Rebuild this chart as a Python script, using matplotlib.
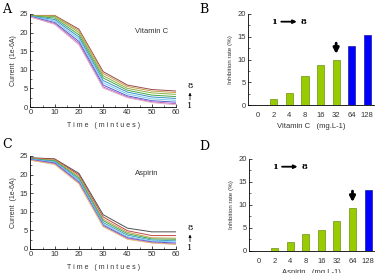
import numpy as np
import matplotlib
matplotlib.use('agg')
import matplotlib.pyplot as plt

plt.rcParams['font.family'] = ['Liberation Sans', 'DejaVu Sans']

# time course (minutes)
time_min = [0, 10, 20, 30, 40, 50, 60]

# Vitamin C current curves, top (8) to bottom (1)
vitc_curves = [
    [24.6, 24.6, 20.9, 9.5, 5.9, 4.7, 4.3],
    [24.6, 24.5, 20.5, 9.0, 5.5, 4.3, 3.9],
    [24.5, 24.3, 20.0, 8.4, 5.0, 3.8, 3.4],
    [24.5, 23.9, 19.4, 7.8, 4.5, 3.2, 2.8],
    [24.4, 23.5, 18.8, 7.1, 4.0, 2.7, 2.3],
    [24.4, 23.1, 18.2, 6.5, 3.5, 2.2, 1.8],
    [24.3, 22.7, 17.6, 5.9, 3.0, 1.7, 1.3],
    [24.2, 22.4, 17.1, 5.4, 2.7, 1.4, 0.9],
    [24.2, 22.2, 16.7, 5.1, 2.5, 1.2, 0.6],
]

# Aspirin current curves, top (8) to bottom (1)
asp_curves = [
    [24.5, 24.2, 20.3, 9.2, 5.6, 4.6, 4.6],
    [24.4, 24.1, 19.9, 8.6, 4.9, 3.6, 3.6],
    [24.3, 23.9, 19.5, 8.0, 4.5, 3.0, 2.9],
    [24.2, 23.7, 19.1, 7.6, 4.1, 2.7, 2.6],
    [24.2, 23.5, 18.7, 7.1, 3.7, 2.4, 2.2],
    [24.1, 23.3, 18.4, 6.7, 3.3, 2.1, 1.9],
    [24.0, 23.1, 18.0, 6.4, 3.0, 1.9, 1.6],
    [23.9, 22.9, 17.7, 6.1, 2.8, 1.7, 1.3],
    [23.8, 22.7, 17.5, 6.0, 2.6, 1.6, 1.2],
]

line_colors = ['#9a4a4a', '#c89a50', '#8cb040', '#48a848', '#3c90c8',
               '#78c8f0', '#5060d0', '#c060c0', '#e0b0c8']
asp_colors = ['#505050', '#c04848', '#c8a050', '#48a848', '#40a0c0',
              '#80c8f0', '#5060d0', '#c060c0', '#e0c080']

# inhibition rates
conc_labels = ['0', '2', '4', '8', '16', '32', '64', '128']
vitc_inhib = [0, 1.3, 2.6, 6.3, 8.9, 10.0, 13.0, 15.4]
asp_inhib = [0, 0.7, 2.0, 3.6, 4.5, 6.4, 9.4, 13.2]
vitc_blue_from = 6
asp_blue_from = 7

GREEN = '#99cc00'
BLUE = '#0000ff'
TXT = '#333333'

fig = plt.figure(figsize=(3.8, 2.73), dpi=100)


def line_panel(rect, curves, colors, name):
    ax = fig.add_axes(rect)
    for c, col in zip(curves, colors):
        ax.plot(time_min, c, color=col, lw=0.7)
    ax.set_xlim(0, 60)
    ax.set_ylim(0, 25)
    ax.set_xticks([0, 10, 20, 30, 40, 50, 60])
    ax.set_xticks(np.arange(0, 61, 5), minor=True)
    ax.set_yticks([0, 5, 10, 15, 20, 25])
    ax.set_yticks(np.arange(0, 25.1, 2.5), minor=True)
    for s in ['top', 'right']:
        ax.spines[s].set_visible(False)
    for s in ['left', 'bottom']:
        ax.spines[s].set_linewidth(0.6)
    ax.tick_params(labelsize=5.5, length=2, width=0.5, pad=1.5, direction='in',
                   labelcolor=TXT)
    ax.tick_params(which='minor', length=1.2, width=0.4, direction='in')
    ax.set_xlabel('T i m e   ( m i n t u e s )', fontsize=5, labelpad=4, color=TXT)
    ax.set_ylabel('Current  (1e-6A)', fontsize=5, labelpad=2, color=TXT)
    ax.text(0.72, 0.8, name, transform=ax.transAxes, fontsize=5.5, color=TXT)
    # 1 -> 8 marker on the right
    ax.text(65.8, 5.6, '8', fontsize=6, ha='center', va='center', clip_on=False,
            family='DejaVu Serif')
    ax.text(65.8, 0.2, '1', fontsize=6, ha='center', va='center', clip_on=False,
            family='DejaVu Serif')
    ax.annotate('', xy=(65.8, 4.6), xytext=(65.8, 1.2), annotation_clip=False,
                arrowprops=dict(arrowstyle='-|>', lw=0.5, color='black',
                                mutation_scale=4))
    return ax


def bar_panel(rect, vals, blue_from, xlabel, arrow_idx):
    ax = fig.add_axes(rect)
    x = np.arange(len(conc_labels))
    cols = [GREEN if i < blue_from else BLUE for i in x]
    edges = ['#5a7a00' if i < blue_from else '#000080' for i in x]
    ax.bar(x, vals, width=0.45, color=cols, edgecolor=edges, linewidth=0.4)
    ax.set_xlim(-0.65, 7.4)
    ax.set_ylim(0, 20)
    ax.set_xticks(x)
    ax.set_xticklabels(conc_labels)
    ax.set_yticks([0, 5, 10, 15, 20])
    ax.set_yticks(np.arange(0, 20.1, 2.5), minor=True)
    for s in ['top', 'right']:
        ax.spines[s].set_visible(False)
    for s in ['left', 'bottom']:
        ax.spines[s].set_linewidth(0.6)
    ax.tick_params(axis='x', length=0, labelsize=5.5, pad=5, labelcolor=TXT)
    ax.tick_params(axis='y', labelsize=5.5, length=2, width=0.5, pad=1.5,
                   direction='in', labelcolor=TXT)
    ax.tick_params(which='minor', length=1.2, width=0.4, direction='in')
    ax.set_xlabel(xlabel, fontsize=5.5, labelpad=3, color=TXT)
    ax.set_ylabel('Inhibition rate (%)', fontsize=4.5, labelpad=3, color=TXT)
    ax.text(1.0, 18.3, '1', fontsize=6, fontweight='bold', ha='center', va='center',
            family='DejaVu Serif')
    ax.text(2.9, 18.3, '8', fontsize=6, fontweight='bold', ha='center', va='center',
            family='DejaVu Serif')
    ax.annotate('', xy=(2.65, 18.3), xytext=(1.3, 18.3),
                arrowprops=dict(arrowstyle='-|>', lw=1.3, color='black',
                                mutation_scale=5))
    top = vals[arrow_idx]
    ax.annotate('', xy=(arrow_idx, top + 0.6), xytext=(arrow_idx, top + 4.2),
                arrowprops=dict(arrowstyle='-|>', lw=2.0, color='black',
                                mutation_scale=8))
    return ax


line_panel([0.080, 0.608, 0.383, 0.341], vitc_curves, line_colors, 'Vitamin C')
line_panel([0.080, 0.088, 0.383, 0.341], asp_curves, asp_colors, 'Aspirin')
bar_panel([0.653, 0.615, 0.330, 0.334], vitc_inhib, vitc_blue_from,
          'Vitamin C   (mg.L-1)', 5)
bar_panel([0.655, 0.081, 0.330, 0.337], asp_inhib, asp_blue_from,
          'Aspirin   (mg.L-1)', 6)

for lab, (fx, fy) in zip('ABCD', [(0.005, 0.965), (0.525, 0.965),
                                  (0.005, 0.47), (0.525, 0.465)]):
    fig.text(fx, fy, lab, fontsize=9, family='DejaVu Serif', va='center')

fig.savefig('out.png', dpi=100)
plt.close(fig)
